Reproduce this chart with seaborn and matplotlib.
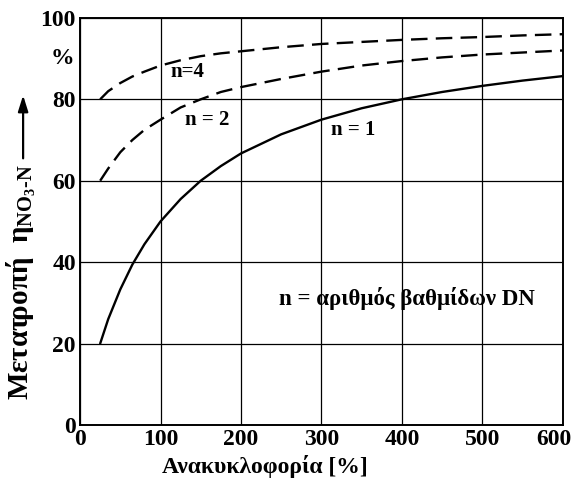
import matplotlib
matplotlib.use("Agg")
import matplotlib.pyplot as plt
import matplotlib.transforms as mtransforms
import seaborn as sns
import pandas as pd

# Data
x_n1 = [25, 35, 50, 65, 80, 100, 125, 150, 175, 200, 250, 300, 350, 400, 450, 500, 550, 600]
y_n1 = [20, 26, 33.3, 39.4, 44.4, 50, 55.5, 60, 63.6, 66.7, 71.4, 75, 77.8, 80, 81.8, 83.3, 84.6, 85.7]
x_n2 = [25, 35, 50, 65, 80, 100, 125, 150, 175, 200, 250, 300, 350, 400, 450, 500, 550, 600]
y_n2 = [60, 63, 67, 70, 72.5, 75, 78, 80, 81.8, 83, 85, 86.8, 88.3, 89.4, 90.3, 91, 91.5, 92]
x_n4 = [25, 35, 50, 65, 80, 100, 125, 150, 175, 200, 250, 300, 350, 400, 450, 500, 550, 600]
y_n4 = [80, 82, 84, 85.6, 86.8, 88.3, 89.6, 90.6, 91.3, 91.8, 92.8, 93.6, 94.1, 94.6, 95, 95.3, 95.7, 96]
xticks = [0, 100, 200, 300, 400, 500, 600]
yticks = [0, 20, 40, 60, 80, 100]

sns.set_theme(style="white")
plt.rcParams['font.family'] = ['Liberation Serif', 'DejaVu Serif', 'DejaVu Sans']
plt.rcParams['mathtext.fontset'] = 'custom'
plt.rcParams['mathtext.rm'] = 'Liberation Serif:bold'
plt.rcParams['mathtext.it'] = 'Liberation Serif:bold'
plt.rcParams['mathtext.bf'] = 'Liberation Serif:bold'
plt.rcParams['font.weight'] = 'bold'
for k in ['text.color', 'axes.labelcolor', 'xtick.color', 'ytick.color', 'axes.edgecolor']:
    plt.rcParams[k] = 'black'

fig = plt.figure(figsize=(5.76, 4.84), dpi=100)
ax = fig.add_axes([0.139, 0.122, 0.838, 0.841])

df1 = pd.DataFrame({"x": x_n1, "y": y_n1})
df2 = pd.DataFrame({"x": x_n2, "y": y_n2})
df4 = pd.DataFrame({"x": x_n4, "y": y_n4})

sns.lineplot(data=df1, x="x", y="y", ax=ax, color="black", lw=1.7)
sns.lineplot(data=df2, x="x", y="y", ax=ax, color="black", lw=1.7)
sns.lineplot(data=df4, x="x", y="y", ax=ax, color="black", lw=1.7)
ax.lines[1].set_dashes((7, 3.5))
ax.lines[2].set_dashes((7, 3.5))

ax.set_xlim(0, 600)
ax.set_ylim(0, 100)
ax.set_xticks(xticks)
ax.set_yticks(yticks)
ax.grid(True, color="black", lw=0.9)
ax.tick_params(axis='both', length=0, labelsize=17, pad=3)
for lbl in ax.get_xticklabels() + ax.get_yticklabels():
    lbl.set_fontweight('bold')
last = ax.get_xticklabels()[-1]
last.set_transform(last.get_transform() + mtransforms.ScaledTranslation(-9 / 100, 0, fig.dpi_scale_trans))
for s in ax.spines.values():
    s.set_color("black")
    s.set_linewidth(1.4)

ax.set_xlabel("Ανακυκλοφορία [%]", fontsize=17, fontweight='bold')
ax.xaxis.set_label_coords(0.383, -0.075)
ax.set_ylabel(r"Μετατροπή  η$_{\mathrm{NO_3\text{-}N}}$", fontsize=21, fontweight='bold')
ax.yaxis.set_label_coords(-0.088, 0.35)
ax.annotate("", xy=(-0.118, 0.81), xytext=(-0.118, 0.655), xycoords='axes fraction',
            textcoords='axes fraction',
            arrowprops=dict(arrowstyle='-|>,head_length=0.8,head_width=0.25', color='black',
                            lw=1.6, shrinkA=0, shrinkB=0),
            annotation_clip=False)

ax.text(-0.012, 90, "%", transform=ax.get_yaxis_transform(), ha='right', va='center',
        fontsize=17, fontweight='bold')
ax.text(112, 86.8, "n=4", fontsize=15, fontweight='bold', va='center')
ax.text(130, 74.8, "n = 2", fontsize=15, fontweight='bold', va='center')
ax.text(312, 72.5, "n = 1", fontsize=15, fontweight='bold', va='center')
ax.text(247, 31, "n = αριθμός βαθμίδων DN", fontsize=16.5, fontweight='bold', va='center')

fig.savefig("out.png", dpi=100)
